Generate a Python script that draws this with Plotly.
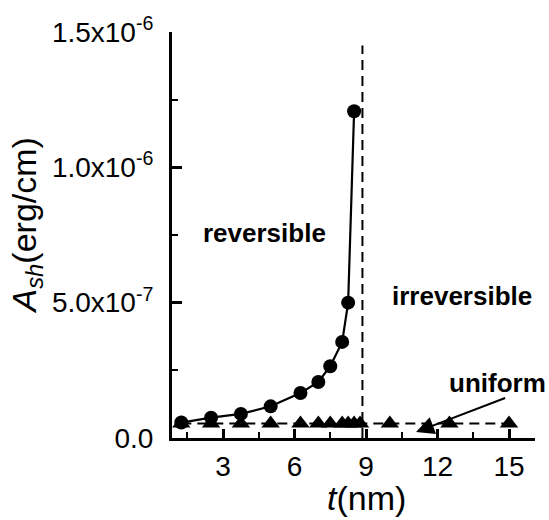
import plotly.graph_objects as go

# Data
t_rev = [1.25, 2.5, 3.75, 5.0, 6.25, 7.0, 7.5, 8.0, 8.25, 8.5]
a_rev = [5.7e-8, 7.5e-8, 8.9e-8, 1.17e-7, 1.66e-7, 2.07e-7, 2.65e-7, 3.55e-7, 5.0e-7, 1.207e-6]
t_uni = [1.25, 2.5, 3.75, 5.0, 6.25, 7.0, 7.5, 8.0, 8.25, 8.5, 8.75, 10.0, 12.5, 15.0]
a_uni = [5.4e-8] * len(t_uni)
t_crit = 8.85

y_tickvals = [0, 5e-7, 1e-6, 1.5e-6]
y_ticktext = ["0.0", "5.0x10<sup>-7</sup>", "1.0x10<sup>-6</sup>", "1.5x10<sup>-6</sup>"]
x_tickvals = [3, 6, 9, 12, 15]
x_ticktext = ["3", "6", "9", "12", "15"]

FONT = "Arial, Liberation Sans, Helvetica, sans-serif"

fig = go.Figure()
fig.add_trace(go.Scatter(
    x=t_uni, y=a_uni, mode="lines+markers",
    line=dict(color="black", width=2, dash="10px,6px"),
    marker=dict(symbol="triangle-up", size=16, color="black"),
    showlegend=False,
))
fig.add_trace(go.Scatter(
    x=t_rev, y=a_rev, mode="lines+markers",
    line=dict(color="black", width=2.2),
    marker=dict(symbol="circle", size=14, color="black"),
    showlegend=False,
))

fig.add_shape(type="line", x0=t_crit, x1=t_crit, y0=0, y1=1.45e-6,
              xref="x", yref="y",
              line=dict(color="black", width=2, dash="10px,6px"))

fig.add_annotation(x=4.76, y=7.57e-7, text="<b>reversible</b>", showarrow=False,
                   font=dict(size=26, color="black", family=FONT))
fig.add_annotation(x=13.03, y=5.25e-7, text="<b>irreversible</b>", showarrow=False,
                   font=dict(size=26, color="black", family=FONT))
fig.add_annotation(x=14.5, y=2.03e-7, text="<b>uniform</b>", showarrow=False,
                   font=dict(size=26, color="black", family=FONT))
fig.add_annotation(x=11.1, y=2.2e-8, ax=14.9, ay=1.5e-7, axref="x", ayref="y",
                   text="", showarrow=True, arrowhead=2, arrowsize=1.8,
                   arrowwidth=2, arrowcolor="black")

# axis titles
fig.add_annotation(xref="paper", yref="paper", x=-0.40, y=0.523,
                   xanchor="center", yanchor="middle",
                   text="<i>A</i><sub><i>sh</i></sub>(erg/cm)", textangle=-90,
                   showarrow=False, font=dict(size=34, color="black", family=FONT))
fig.add_annotation(xref="paper", yref="paper", x=0.537, y=-0.148,
                   xanchor="center", yanchor="middle",
                   text="<i>t</i>(nm)", showarrow=False,
                   font=dict(size=34, color="black", family=FONT))

fig.update_layout(
    width=549, height=520,
    margin=dict(l=172, r=14, t=25, b=82),
    paper_bgcolor="white", plot_bgcolor="white",
    font=dict(family=FONT, color="black", size=28),
    xaxis=dict(
        range=[0.86, 16.09], showgrid=False, zeroline=False,
        showline=True, linecolor="black", linewidth=3,
        ticks="inside", ticklen=9, tickwidth=2.5, tickcolor="black",
        tickvals=x_tickvals, ticktext=x_ticktext,
        tickfont=dict(size=28), ticklabelstandoff=1,
        minor=dict(tickvals=[1.5, 4.5, 7.5, 10.5, 13.5], ticks="inside",
                   ticklen=6, tickwidth=2, tickcolor="black"),
    ),
    yaxis=dict(
        range=[0, 1.5e-6], showgrid=False, zeroline=False,
        showline=True, linecolor="black", linewidth=3,
        ticks="inside", ticklen=10, tickwidth=2.5, tickcolor="black",
        tickvals=y_tickvals, ticktext=y_ticktext,
        tickfont=dict(size=28), ticklabelstandoff=10,
        minor=dict(tickvals=[2.5e-7, 7.5e-7, 1.25e-6], ticks="inside",
                   ticklen=6, tickwidth=2, tickcolor="black"),
    ),
)

fig.write_html("out.html", config={"displayModeBar": False},
               post_script="document.body.style.margin='0';")
